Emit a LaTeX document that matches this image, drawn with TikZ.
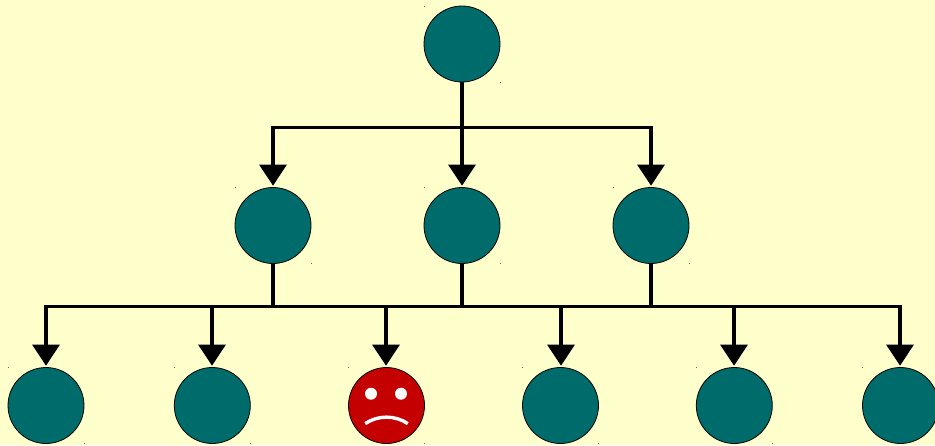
\documentclass[tikz,border=0pt]{standalone}
\usetikzlibrary{arrows.meta}
\definecolor{bg}{HTML}{FFFFCC}
\definecolor{teal2}{HTML}{006B6B}
\definecolor{red2}{HTML}{C40000}
\tikzset{
  ball/.style={circle,draw=black,line width=0.8pt,fill=teal2,minimum size=76pt,inner sep=0pt,outer sep=0pt},
  sadball/.style={ball,fill=red2},
  wire/.style={line width=3.3pt,draw=black},
  arrowwire/.style={wire,-{Triangle[length=21pt,width=27pt]},shorten >=1.8pt},
  speck/.style={fill=black!60,inner sep=0pt,minimum size=1pt,shape=rectangle}
}
\begin{document}
\begin{tikzpicture}[x=1pt,y=-1pt]
\useasboundingbox (0,0) rectangle (935,445);
\clip (0,0) rectangle (935,445);
\fill[bg] (0,0) rectangle (935,445);
% nodes
\node[ball] (root) at (462,44) {};
\node[ball] (m1) at (273,225.5) {};
\node[ball] (m2) at (462,225.5) {};
\node[ball] (m3) at (651,225.5) {};
\node[ball] (l1) at (46,405.5) {};
\node[ball] (l2) at (212.3,405.5) {};
\node[sadball] (l3) at (386.5,405.5) {};
\node[ball] (l4) at (560.5,405.5) {};
\node[ball] (l5) at (734.3,405.5) {};
\node[ball] (l6) at (900.5,405.5) {};
% specks
\foreach \n in {root,m1,m2,m3,l1,l2,l3,l4,l5,l6}{
  \node[speck] at ([shift={(-38pt,38pt)}]\n.center) {};
  \node[speck] at ([shift={(38pt,-38pt)}]\n.center) {};
}
% upper bus
\coordinate (ua) at (273,127.2);
\coordinate (ub) at (462,127.2);
\coordinate (uc) at (651,127.2);
\draw[wire,line cap=rect] (ua) -- (uc);
\draw[wire] (root.south -| ub) -- (ub);
\draw[arrowwire] (ua) -- (ua |- m1.north);
\draw[arrowwire] (ub) -- (ub |- m2.north);
\draw[arrowwire] (uc) -- (uc |- m3.north);
% lower bus
\coordinate (la) at (46,306.4);
\coordinate (lb) at (212,306.4);
\coordinate (lc) at (386,306.4);
\coordinate (ld) at (561,306.4);
\coordinate (le) at (734,306.4);
\coordinate (lf) at (900,306.4);
\draw[wire,line cap=rect] (la) -- (lf);
\draw[wire] (ua |- m1.south) -- (ua |- la);
\draw[wire] (ub |- m2.south) -- (ub |- la);
\draw[wire] (uc |- m3.south) -- (uc |- la);
\draw[arrowwire] (la) -- (la |- l1.north);
\draw[arrowwire] (lb) -- (lb |- l2.north);
\draw[arrowwire] (lc) -- (lc |- l3.north);
\draw[arrowwire] (ld) -- (ld |- l4.north);
\draw[arrowwire] (le) -- (le |- l5.north);
\draw[arrowwire] (lf) -- (lf |- l6.north);
% sad face
\fill[white] (371,393.7) circle (6);
\fill[white] (401,393.7) circle (6);
\draw[white,line width=3.4pt] (365.2,423.6) .. controls (378,415) and (395,415) .. (407.8,423.6);
\end{tikzpicture}
\end{document}
